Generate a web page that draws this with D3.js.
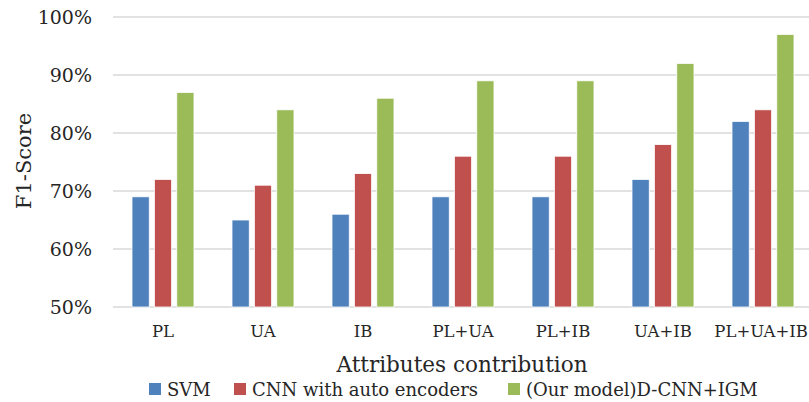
<!DOCTYPE html>
<html>
<head>
<meta charset="utf-8">
<script src="https://cdn.jsdelivr.net/npm/d3@7"></script>
<style>
  html, body { margin: 0; padding: 0; background: #fff; }
  svg { display: block; }
  text { font-family: "DejaVu Serif", "Liberation Serif", serif; fill: #262626; }
</style>
</head>
<body>
<svg id="chart" width="809" height="402"></svg>
<script>
// Attribute combinations on the x axis
const categories = ["PL", "UA", "IB", "PL+UA", "PL+IB", "UA+IB", "PL+UA+IB"];
// Model names (legend order)
const seriesNames = ["SVM", "CNN with auto encoders", "(Our model)D-CNN+IGM"];
// F1-scores per model, one value per category
const svm = [0.69, 0.65, 0.66, 0.69, 0.69, 0.72, 0.82];
const cnnAutoEncoders = [0.72, 0.71, 0.73, 0.76, 0.76, 0.78, 0.84];
const dcnnIgm = [0.87, 0.84, 0.86, 0.89, 0.89, 0.92, 0.97];
// Y axis ticks
const yTicks = [0.5, 0.6, 0.7, 0.8, 0.9, 1.0];

const seriesValues = [svm, cnnAutoEncoders, dcnnIgm];
const colors = ["#4F81BD", "#C0504D", "#9BBB59"];

const svg = d3.select("#chart");
const plot = { left: 113, right: 813, top: 17, bottom: 307 };

const y = d3.scaleLinear().domain([0.5, 1.0]).range([plot.bottom, plot.top]);
const x0 = d3.scaleBand().domain(categories).range([plot.left, plot.right]).paddingInner(0).paddingOuter(0);
const x1 = d3.scaleBand().domain(d3.range(seriesNames.length))
  .range([19, x0.bandwidth() - 19]).paddingInner(0.23).paddingOuter(0);

// Horizontal gridlines
svg.append("g").selectAll("line").data(yTicks).join("line")
  .attr("x1", plot.left).attr("x2", plot.right)
  .attr("y1", d => y(d)).attr("y2", d => y(d))
  .attr("stroke", "#d9d9d9").attr("stroke-width", 1.5);

// Y axis labels
const yAxis = d3.axisLeft(y).tickValues(yTicks).tickFormat(d3.format(".0%")).tickSize(0).tickPadding(0);
const yg = svg.append("g").attr("transform", `translate(92,0)`).call(yAxis);
yg.select(".domain").remove();
yg.selectAll("text").style("font-size", "19px").attr("fill", "#262626")
  .style("font-family", '"DejaVu Serif", serif').attr("dy", "0.35em");

// Bars
const groups = svg.append("g").selectAll("g").data(categories).join("g")
  .attr("transform", c => `translate(${x0(c)},0)`);
groups.selectAll("rect")
  .data((c, i) => seriesValues.map((vals, s) => ({ s, v: vals[i] })))
  .join("rect")
  .attr("x", d => x1(d.s))
  .attr("width", x1.bandwidth())
  .attr("y", d => y(d.v))
  .attr("height", d => y(0.5) - y(d.v))
  .attr("fill", d => colors[d.s])
  .attr("stroke", "#ffffff").attr("stroke-width", 0.8);

// X axis labels
const xAxis = d3.axisBottom(x0).tickSize(0).tickPadding(0);
const xg = svg.append("g").attr("transform", `translate(0,337)`).call(xAxis);
xg.select(".domain").remove();
xg.selectAll("text").attr("dy", 0).style("font-size", "16.5px").attr("fill", "#262626")
  .style("font-family", '"DejaVu Serif", serif');
// keep the last (longest) label inside the right edge
xg.selectAll(".tick").filter(d => d === categories[categories.length - 1])
  .select("text").attr("text-anchor", "end").attr("x", 808 - (x0(categories[categories.length - 1]) + x0.bandwidth() / 2));

// Axis titles
svg.append("text").attr("x", 462).attr("y", 372).attr("text-anchor", "middle")
  .style("font-size", "21.5px").text("Attributes contribution");
svg.append("text").attr("transform", "translate(31,161) rotate(-90)").attr("text-anchor", "middle")
  .style("font-size", "21px").text("F1-Score");

// Legend
const legendX = [149, 234, 508];
const legend = svg.append("g").selectAll("g").data(seriesNames).join("g")
  .attr("transform", (d, i) => `translate(${legendX[i]},383)`);
legend.append("rect").attr("width", 12).attr("height", 12).attr("fill", (d, i) => colors[i]);
legend.append("text").attr("x", 18).attr("y", 13).style("font-size", "18px").text(d => d);
</script>
</body>
</html>
